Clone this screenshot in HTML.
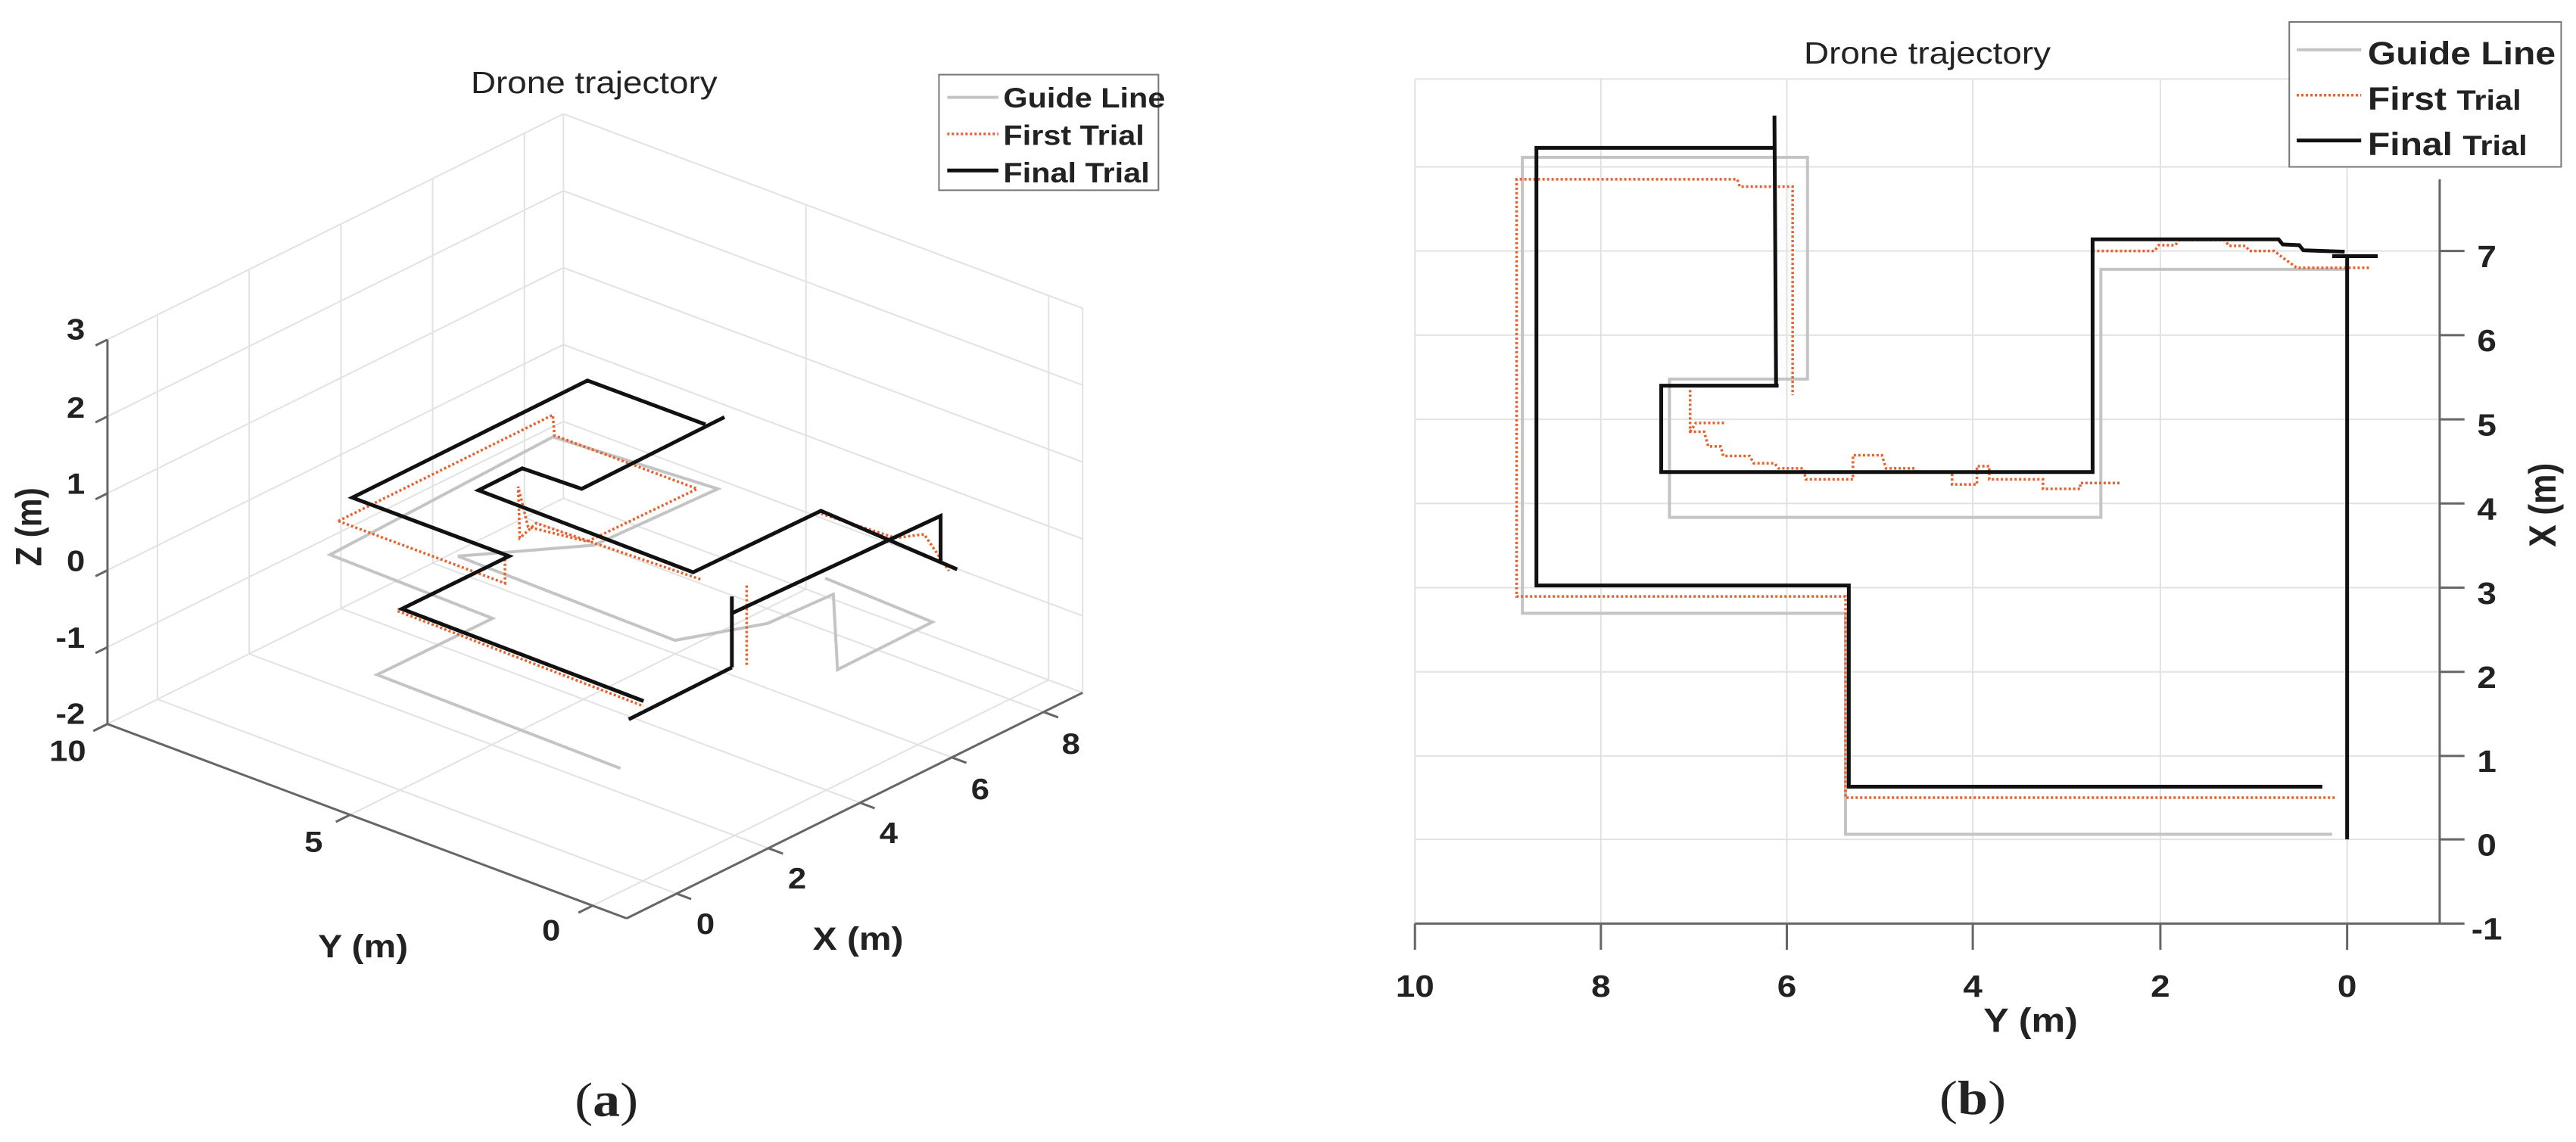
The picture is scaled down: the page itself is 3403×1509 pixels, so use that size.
<!DOCTYPE html>
<html><head><meta charset="utf-8"><style>
html,body{margin:0;padding:0;background:#fff;}
svg{display:block;}
text{font-family:"Liberation Sans",sans-serif;fill:#222;}
.g{fill:none;stroke:#e2e2e2;stroke-width:2;}
.ax{fill:none;stroke:#666;stroke-width:3;}
.blk{fill:none;stroke:#111;stroke-width:5;stroke-linejoin:miter;}
.gry{fill:none;stroke:#c4c4c4;stroke-width:4;}
.org{fill:none;stroke:#e8602c;stroke-width:3.5;stroke-dasharray:3 3;}
.b{font-weight:bold;}
</style></head><body>
<svg width="3403" height="1509" viewBox="0 0 3403 1509" xmlns="http://www.w3.org/2000/svg">
<rect width="3403" height="1509" fill="#fff"/>

<!-- ========== PANEL A grids ========== -->
<!-- left wall Y=10 : (X,Z') -->
<g transform="matrix(60.6,-30,0,-101.6,208,924)">
<path class="g" vector-effect="non-scaling-stroke" d="M0,0V5M2,0V5M4,0V5M6,0V5M8,0V5M8.85,0V5M-1.09,1H8.85M-1.09,2H8.85M-1.09,3H8.85M-1.09,4H8.85M-1.09,5H8.85"/>
</g>
<!-- right wall X=8.85 : (Y,Z') -->
<g transform="matrix(-64.1,-24,0,-101.6,1385.3,898.5)">
<path class="g" vector-effect="non-scaling-stroke" d="M0,0V5M5,0V5M-0.7,0V5M-0.7,1H10M-0.7,2H10M-0.7,3H10M-0.7,4H10M-0.7,5H10"/>
</g>
<!-- floor Z=-2 : (X,Y) -->
<g transform="matrix(60.6,-30,-64.1,-24,849,1164)">
<path class="g" vector-effect="non-scaling-stroke" d="M0,-0.7V10M2,-0.7V10M4,-0.7V10M6,-0.7V10M8,-0.7V10M8.85,-0.7V10M-1.09,0H8.85M-1.09,5H8.85M-1.09,10H8.85"/>
<path class="ax" vector-effect="non-scaling-stroke" d="M-1.09,-0.7H8.85M-1.09,-0.7V10M0,-0.7V-1M2,-0.7V-1M4,-0.7V-1M6,-0.7V-1M8,-0.7V-1M-1.09,0H-1.4M-1.09,5H-1.4M-1.09,10H-1.4"/>
</g>
<!-- Z axis -->
<g transform="matrix(60.6,-30,0,-101.6,208,924)">
<path class="ax" vector-effect="non-scaling-stroke" d="M-1.09,0V5M-1.09,0H-1.35M-1.09,1H-1.35M-1.09,2H-1.35M-1.09,3H-1.35M-1.09,4H-1.35M-1.09,5H-1.35"/>
</g>

<!-- PANEL A trajectories & text in zoom-disp coords -->
<g transform="scale(1.09,0.967)">
<path class="gry" vector-effect="non-scaling-stroke" d="M752,1050 L457,922 L597,845 L400,758 L670,597 L870,668 L720,745 L555,760 L818,875 L930,852 L1010,812 L1015,915 L1130,850 L1000,790"/>
<path class="org" vector-effect="non-scaling-stroke" d="M482,835 L780,965 M410,712 L612,797 L612,760 M410,712 L670,567 L672,595 L845,668 L712,740 L640,720 L628,665 L630,735 L650,715 L850,792 M990,700 L1085,735 L1120,730 L1150,780 M905,800 L905,910"/>
<path class="blk" vector-effect="non-scaling-stroke" d="M762,983 L887,912 M887,815 L887,912 M887,838 L1140,705 L1140,770 M1160,778 L995,698 L840,782 L580,670 L633,640 L705,668 L878,570 M855,580 L712,520 L427,680 L617,760 L487,832 L780,958"/>

<text x="720" y="127" font-size="42" text-anchor="middle">Drone trajectory</text>
<rect x="1138" y="102" width="266" height="158" fill="#fff" stroke="#777" stroke-width="2" vector-effect="non-scaling-stroke"/>
<line x1="1148" y1="133" x2="1210" y2="133" class="gry" vector-effect="non-scaling-stroke"/>
<line x1="1148" y1="183" x2="1210" y2="183" class="org" vector-effect="non-scaling-stroke"/>
<line x1="1148" y1="233" x2="1210" y2="233" class="blk" vector-effect="non-scaling-stroke"/>
<text x="1216" y="147" font-size="38" class="b">Guide Line</text>
<text x="1216" y="198" font-size="38" class="b">First  Trial</text>
<text x="1216" y="249" font-size="38" class="b">Final Trial</text>

<g font-size="40" class="b" text-anchor="end">
<text x="103" y="464">3</text><text x="103" y="571">2</text><text x="103" y="675">1</text>
<text x="103" y="780">0</text><text x="103" y="885">-1</text><text x="103" y="989">-2</text>
</g>
<g font-size="40" class="b" text-anchor="middle">
<text x="82" y="1040">10</text><text x="380" y="1164">5</text><text x="668" y="1285">0</text>
<text x="855" y="1276">0</text><text x="966" y="1214">2</text><text x="1077" y="1152">4</text>
<text x="1188" y="1092">6</text><text x="1298" y="1030">8</text>
<text x="440" y="1308" font-size="44">Y (m)</text>
<text x="1040" y="1298" font-size="44">X (m)</text>
</g>
<text transform="translate(50,720) rotate(-90)" font-size="44" class="b" text-anchor="middle">Z (m)</text>
<text x="735" y="1525" font-size="66" text-anchor="middle" style="font-family:'Liberation Serif',serif">(<tspan font-weight="bold">a</tspan>)</text>
</g>

<!-- ========== PANEL B ========== -->
<g transform="translate(1700,0) scale(1.0917,0.967)">
<!-- grid -->
<path class="g" vector-effect="non-scaling-stroke" d="M155,108H1395M155,228H1395M155,343H1395M155,458H1395M155,573H1395M155,688H1395M155,803H1395M155,918H1395M155,1033H1395M155,1147H1395M155,108V1262M380,108V1262M605,108V1262M830,108V1262M1057,108V1262M1283,108V1262"/>
<!-- axes -->
<path class="ax" vector-effect="non-scaling-stroke" d="M155,1262H1395M1395,245V1262M155,1262V1298M380,1262V1298M605,1262V1298M830,1262V1298M1057,1262V1298M1283,1262V1298M1395,1262H1425M1395,1147H1425M1395,1033H1425M1395,918H1425M1395,803H1425M1395,688H1425M1395,573H1425M1395,458H1425M1395,343H1425"/>
<!-- guide -->
<path class="gry" vector-effect="non-scaling-stroke" d="M1265,1140 L676,1140 L676,838 L285,838 L285,215 L630,215 L630,518 L463,518 L463,707 L985,707 L985,368 L1283,368"/>
<!-- first trial -->
<path class="org" vector-effect="non-scaling-stroke" d="M1268,1090 L676,1090 L676,815 L278,815 L278,245 L545,245 L548,255 L612,255 L612,540 M488,533 L488,590 L505,590 L510,610 L525,610 L528,623 L560,623 L565,633 L590,633 L595,640 L625,640 L628,655 L685,655 L685,622 L720,622 L725,640 L760,640 L760,645 L805,645 L805,662 L835,662 L835,637 L850,637 L850,655 L915,655 L915,668 L960,668 L960,660 L1008,660 M488,590 L495,578 L530,578 M975,343 L1050,343 L1055,335 L1075,335 L1080,328 L1135,328 L1140,336 L1160,336 L1165,343 L1195,343 L1205,352 L1215,360 L1222,366 L1312,366"/>
<!-- final trial -->
<path class="blk" vector-effect="non-scaling-stroke" d="M1283,1147 L1283,350 M1265,350 L1320,350 M1280,344 L1230,342 L1225,335 L1205,334 L1200,327 L975,327 L975,645 L453,645 L453,527 L595,527 M592,527 L590,158 M590,202 L302,202 L302,800 L680,800 L680,1075 L1253,1075"/>

<text x="775" y="87" font-size="42" text-anchor="middle">Drone trajectory</text>
<rect x="1213" y="30" width="329" height="198" fill="#fff" stroke="#777" stroke-width="2" vector-effect="non-scaling-stroke"/>
<line x1="1222" y1="68" x2="1300" y2="68" class="gry" vector-effect="non-scaling-stroke"/>
<line x1="1222" y1="130" x2="1300" y2="130" class="org" vector-effect="non-scaling-stroke"/>
<line x1="1222" y1="192" x2="1300" y2="192" class="blk" vector-effect="non-scaling-stroke"/>
<text x="1308" y="88" font-size="44" class="b">Guide Line</text>
<text x="1308" y="150" font-size="44" class="b">First <tspan font-size="38">Trial</tspan></text>
<text x="1308" y="212" font-size="44" class="b">Final <tspan font-size="38">Trial</tspan></text>

<g font-size="42" class="b" text-anchor="middle">
<text x="155" y="1362">10</text><text x="380" y="1362">8</text><text x="605" y="1362">6</text>
<text x="830" y="1362">4</text><text x="1057" y="1362">2</text><text x="1283" y="1362">0</text>
<text x="900" y="1410" font-size="46">Y (m)</text>
</g>
<g font-size="42" class="b" text-anchor="middle">
<text x="1452" y="1284">-1</text><text x="1452" y="1169">0</text><text x="1452" y="1055">1</text>
<text x="1452" y="940">2</text><text x="1452" y="825">3</text><text x="1452" y="710">4</text>
<text x="1452" y="595">5</text><text x="1452" y="480">6</text><text x="1452" y="365">7</text>
</g>
<text transform="translate(1535,690) rotate(-90)" font-size="46" class="b" text-anchor="middle">X (m)</text>
<text x="830" y="1522" font-size="66" text-anchor="middle" style="font-family:'Liberation Serif',serif">(<tspan font-weight="bold">b</tspan>)</text>
</g>
</svg>
</body></html>
